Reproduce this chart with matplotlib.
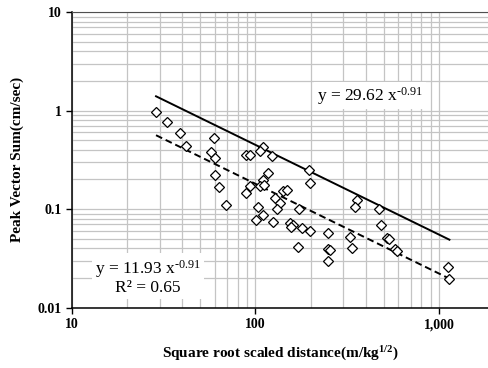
import numpy as np
import matplotlib
matplotlib.use("Agg")
import matplotlib.pyplot as plt
from matplotlib.ticker import FixedLocator, FixedFormatter, NullFormatter, LogLocator

plt.rcParams["font.family"] = ["Liberation Serif", "DejaVu Serif"]
plt.rcParams["mathtext.default"] = "regular"
plt.rcParams["mathtext.fontset"] = "custom"
plt.rcParams["mathtext.rm"] = "Liberation Serif"
plt.rcParams["mathtext.it"] = "Liberation Serif:italic"
plt.rcParams["mathtext.bf"] = "Liberation Serif:bold"

# scaled distance (m/kg^1/2) and peak vector sum (cm/sec)
dist = [28.7, 33.1, 38.8, 41.8, 59.4, 57.2, 60.5, 59.9, 63.3, 69.1,
        88.8, 93.3, 110.3, 105.8, 122.6, 117.4, 109.9, 93.3, 88.4, 105.4,
        111.9, 127.7, 136.0, 131.0, 103.6, 141.8, 149.4, 173.3, 196.5, 197.0,
        100.6, 109.9, 124.6, 154.2, 159.1, 157.1, 178.6, 198.2, 171.5, 249.3,
        249.3, 254.7, 246.9, 327.3, 334.4, 357.5, 348.6, 471.0, 486.0, 518.8,
        532.0, 575.7, 590.3, 1119, 1134]
pvs = [0.957, 0.761, 0.593, 0.432, 0.524, 0.376, 0.334, 0.224, 0.168, 0.1096,
       0.352, 0.355, 0.430, 0.389, 0.349, 0.233, 0.198, 0.173, 0.147, 0.170,
       0.177, 0.130, 0.1156, 0.1005, 0.106, 0.151, 0.155, 0.101, 0.247, 0.185,
       0.0768, 0.0863, 0.0742, 0.0719, 0.0692, 0.0665, 0.0650, 0.0605, 0.0417, 0.0570,
       0.0395, 0.0386, 0.0298, 0.0526, 0.0404, 0.1225, 0.106, 0.101, 0.0684, 0.0510,
       0.0495, 0.0392, 0.0372, 0.0256, 0.0194]

# power-law fits y = a * x^b
upper_a = 29.62
mean_a = 11.93
slope = -0.91
fit_range = [28.7, 1140]

x_ticks = [10, 100, 1000]
x_labels = ["10", "100", "1,000"]
y_ticks = [0.01, 0.1, 1, 10]
y_labels = ["0.01", "0.1", "1", "10"]

fig = plt.figure(figsize=(4.89, 3.68), dpi=100)
ax = fig.add_axes([72 / 489, 60.3 / 368, 417 / 489, 295.7 / 368])

ax.set_xscale("log")
ax.set_yscale("log")
ax.set_xlim(10, 1873)
ax.set_ylim(0.01, 10)

ax.xaxis.set_minor_locator(LogLocator(base=10, subs=np.arange(2, 10)))
ax.yaxis.set_minor_locator(LogLocator(base=10, subs=np.arange(2, 10)))
ax.xaxis.set_major_locator(FixedLocator(x_ticks))
ax.xaxis.set_major_formatter(FixedFormatter(x_labels))
ax.yaxis.set_major_locator(FixedLocator(y_ticks))
ax.yaxis.set_major_formatter(FixedFormatter(y_labels))
ax.xaxis.set_minor_formatter(NullFormatter())
ax.yaxis.set_minor_formatter(NullFormatter())

ax.grid(True, which="both", color="#c4c4c4", linewidth=0.9)
ax.set_axisbelow(True)
ax.tick_params(which="minor", length=0)
ax.tick_params(which="major", length=4, width=1, direction="out",
               labelsize=10)
for lab in ax.get_xticklabels() + ax.get_yticklabels():
    lab.set_fontweight("bold")

ax.spines["right"].set_visible(False)
ax.spines["top"].set_color("#505050")
ax.spines["left"].set_linewidth(1.1)
ax.spines["bottom"].set_linewidth(1.1)

fx = np.array(fit_range)
ax.plot(fx, upper_a * fx ** slope, color="black", lw=1.4)
ax.plot(fx, mean_a * fx ** slope, color="black", lw=1.4, ls=(0, (3.5, 2)))

ax.plot(dist, pvs, ls="none", marker="D", ms=5, mfc="white", mec="black",
        mew=0.9)

box = dict(facecolor="white", edgecolor="none", pad=2)
ax.text(370 / 489, 0.74, r"y = 29.62 x$^{\text{-0.91}}$",
        transform=fig.transFigure, ha="center", va="center", fontsize=12.5,
        bbox=box)
ax.text(148 / 489, 1 - 277 / 368, "y = 11.93 x$^{\\text{-0.91}}$\nR² = 0.65",
        transform=fig.transFigure, ha="center", va="center", fontsize=12.5,
        linespacing=1.0, bbox=box)

ax.set_xlabel("Square root scaled distance(m/kg$^{1/2}$)", fontsize=11,
              fontweight="bold", labelpad=10)
ax.set_ylabel("Peak Vector Sum(cm/sec)", fontsize=11, fontweight="bold",
              labelpad=10)

fig.savefig("out.png", dpi=100)
